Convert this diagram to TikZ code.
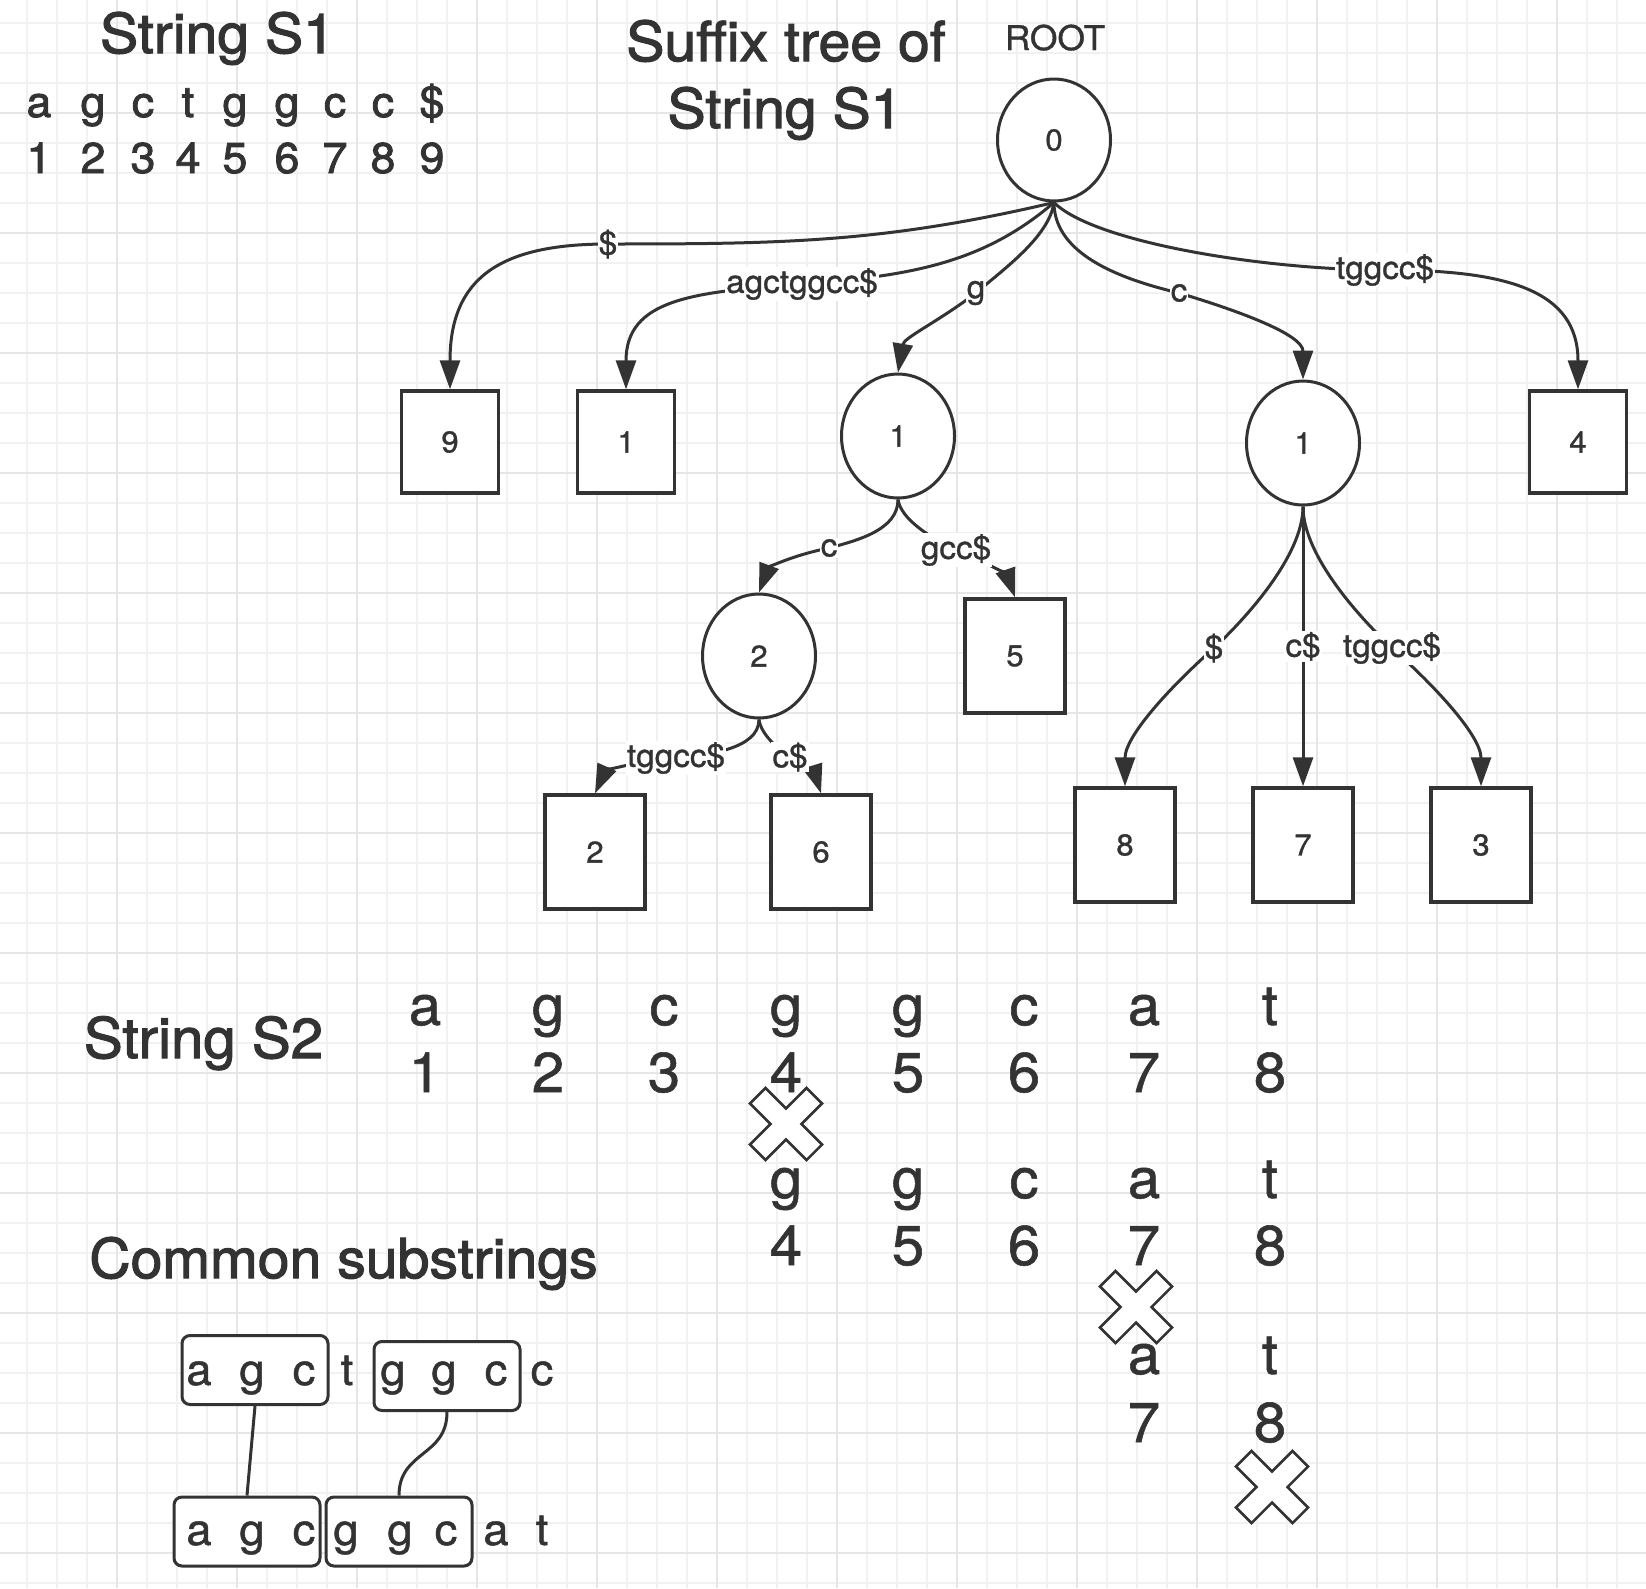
\documentclass[tikz,border=0pt]{standalone}
\usepackage{fontspec}
\setmainfont{TeX Gyre Heros}[FakeStretch=1.04,FakeBold=1]
\newfontfamily\heavyfont{TeX Gyre Heros}[FakeStretch=1.04,FakeBold=2]
\usetikzlibrary{shapes.geometric}
\usetikzlibrary{arrows.meta}
\definecolor{ink}{HTML}{333333}
\definecolor{gridlight}{HTML}{F1F1F1}
\definecolor{griddark}{HTML}{E6E6E6}

\tikzset{
  grid minor/.style = {draw=gridlight, line width=1.3pt},
  grid major/.style = {draw=griddark, line width=1.6pt},
  tree edge/.style  = {draw=ink, line width=3pt, -{Triangle[length=29pt,width=20pt]}},
  edge lbl/.style   = {fill=white, inner sep=1pt, font=\fontsize{32}{34}\selectfont},
  link/.style       = {draw=ink, line width=3pt},
  cross mark/.style = {draw=ink, fill=white, line width=2.6pt}
}

\begin{document}
\begin{tikzpicture}[x=1pt,y=-1pt,text=ink]
\tikzstyle{leaf node}=[rectangle,draw=ink,fill=white,line width=3.4pt,minimum width=97pt,minimum height=102pt,inner sep=0,font=\fontsize{30}{32}\selectfont]
\tikzstyle{tall leaf}=[leaf node,minimum width=100pt,minimum height=114pt]
\tikzstyle{inner node}=[ellipse,draw=ink,fill=white,line width=3pt,minimum width=113pt,minimum height=124pt,inner sep=0,font=\fontsize{30}{32}\selectfont]
\tikzstyle{title}=[anchor=base,font=\heavyfont\fontsize{55}{60}\selectfont]
\tikzstyle{seq one}=[anchor=base,font=\heavyfont\fontsize{43}{46}\selectfont]
\tikzstyle{seq two}=[anchor=base,font=\fontsize{56}{60}\selectfont]
\tikzstyle{sub box}=[rectangle,rounded corners=8pt,draw=ink,fill=white,line width=3pt,minimum width=146pt,minimum height=69pt,inner sep=0]
\tikzstyle{sub chr}=[anchor=base,font=\fontsize{44}{46}\selectfont]

\useasboundingbox (0,0) rectangle (1646,1588);
% background grid
\foreach \gx in {27,57,...,1646} \draw[grid minor] (\gx,0) -- (\gx,1588);
\foreach \gy in {23,53,...,1588} \draw[grid minor] (0,\gy) -- (1646,\gy);
\foreach \gx in {117,237,...,1646} \draw[grid major] (\gx,0) -- (\gx,1588);
\foreach \gy in {113,233,...,1588} \draw[grid major] (0,\gy) -- (1646,\gy);

% titles
\node[title] (s1title) at (217.5,53) {String S1};
\node[title] (suffix1) at (786,61) {Suffix tree of};
\node[title] (suffix2) at (785,128) {String S1};
\node[anchor=base,font=\fontsize{34}{36}\selectfont] (rootlbl) at (1055,50) {ROOT};

% string S1
\foreach \px/\ch [count=\i] in {39/a,93/g,143/c,188/t,235/g,287/g,335/c,383/c,432/\$} {
  \node[seq one] (s1c\i) at (\px,117) {\ch};
  \node[seq one] (s1n\i) at (\px,173) {\i};
}

% suffix tree
\node[inner node,minimum height=122pt] (r0) at (1054,140) {0};
\node[leaf node]  (b9)  at (450,442)  {9};
\node[leaf node]  (b1)  at (626,442)  {1};
\node[inner node] (c1l) at (898,436)  {1};
\node[inner node] (c1r) at (1303,443) {1};
\node[leaf node]  (b4)  at (1578,442) {4};
\node[inner node] (c2)  at (759,656)  {2};
\node[tall leaf]  (b5)  at (1015,656) {5};
\node[tall leaf]  (b2)  at (595,852)  {2};
\node[tall leaf]  (b6)  at (821,852)  {6};
\node[tall leaf]  (b8)  at (1125,845) {8};
\node[tall leaf]  (b7)  at (1303,845) {7};
\node[tall leaf]  (b3)  at (1481,845) {3};

\coordinate (w9)  at (608,244);
\coordinate (w1)  at (802,284);
\coordinate (wg)  at (976,293);
\coordinate (wc)  at (1179,293);
\coordinate (w4)  at (1385,270);
\coordinate (wlc) at (829,548);
\coordinate (w5)  at (956,550);
\coordinate (w2)  at (676,758);
\coordinate (w6)  at (790,757);
\coordinate (w8)  at (1214,648);
\coordinate (w3)  at (1392,648);

\draw[tree edge] (r0.south) .. controls +(-170,40) and +(175,0) .. node[edge lbl,pos=1] {\$} (w9)
                 .. controls +(-110,0) and +(0,-110) .. (b9.north);
\draw[tree edge] (r0.south) .. controls +(-70,60) and +(110,-8) .. node[edge lbl,pos=1] {agctggcc\$} (w1)
                 .. controls +(-110,8) and +(0,-90) .. (b1.north);
\draw[tree edge] (r0.south) .. controls +(-5,35) and +(25,-22) .. node[edge lbl,pos=1] {g} (wg)
                 .. controls +(-40,30) and +(6,-35) .. (c1l.north);
\draw[tree edge] (r0.south) .. controls +(0,55) and +(-50,-12) .. node[edge lbl,pos=1] {c} (wc)
                 .. controls +(60,18) and +(0,-45) .. (c1r.north);
\draw[tree edge] (r0.south) .. controls +(40,40) and +(-120,0) .. node[edge lbl,pos=1] {tggcc\$} (w4)
                 .. controls +(120,0) and +(0,-100) .. (b4.north);
%%%%%%%%%%%%%%%%%%%%
\draw[tree edge] (c1l.south) .. controls +(0,30) and +(30,-8) .. node[edge lbl,pos=1] {c} (wlc)
                 .. controls +(-40,8) and +(9,-24) .. (c2.north);
\draw[tree edge] (c1l.south) .. controls +(3,20) and +(-25,-12) .. node[edge lbl,pos=1] {gcc\$} (w5)
                 .. controls +(28,10) and +(-7,-20) .. (b5.north);
\draw[tree edge] (c2.south) .. controls +(0,30) and +(30,-3) .. node[edge lbl,pos=1] {tggcc\$} (w2)
                 .. controls +(-45,3) and +(9,-20) .. (b2.north);
\draw[tree edge] (c2.south) .. controls +(2,15) and +(-12,-8) .. node[edge lbl,pos=1] {c\$} (w6)
                 .. controls +(16,6) and +(-5,-16) .. (b6.north);
%%%%%%%%%%%%%%%%%%%%
\draw[tree edge] (c1r.south) .. controls +(0,50) and +(30,-28) .. node[edge lbl,pos=1] {\$} (w8)
                 .. controls +(-45,40) and +(0,-50) .. (b8.north);
\draw[tree edge] (c1r.south) -- node[edge lbl] {c\$} (b7.north);
\draw[tree edge] (c1r.south) .. controls +(0,50) and +(-30,-28) .. node[edge lbl,pos=1] {tggcc\$} (w3)
                 .. controls +(45,40) and +(0,-50) .. (b3.north);

% string S2 and its suffixes
\node[title,font=\heavyfont\fontsize{56}{60}\selectfont] (s2title) at (203.5,1058) {String S2};
\foreach \px/\ch [count=\i] in {425/a,548/g,664/c,786/g,908/g,1024/c,1144/a,1270/t} {
  \node[seq two] (s2c\i) at (\px,1025) {\ch};
  \node[seq two] (s2n\i) at (\px,1092) {\i};
}
\foreach \px/\ch/\k in {786/g/4,908/g/5,1024/c/6,1144/a/7,1270/t/8} {
  \node[seq two] (t4c\k) at (\px,1198) {\ch};
  \node[seq two] (t4n\k) at (\px,1265) {\k};
}
\foreach \px/\ch/\k in {1144/a/7,1270/t/8} {
  \node[seq two] (t7c\k) at (\px,1374) {\ch};
  \node[seq two] (t7n\k) at (\px,1442) {\k};
}
\foreach \cx/\cy in {786/1124,1136/1307,1272/1487}
  \draw[cross mark,shift={(\cx,\cy)},rotate=45] (11,40) -- (11,11) -- (40,11) -- (40,-11) -- (11,-11) -- (11,-40)
       -- (-11,-40) -- (-11,-11) -- (-40,-11) -- (-40,11) -- (-11,11) -- (-11,40) -- cycle;

% common substrings
\node[title] (common) at (343.5,1278) {Common substrings};
\node[sub box] (u1) at (255,1370)  {};
\node[sub box] (u2) at (447,1376)  {};
\node[sub box] (v1) at (247,1531.5) {};
\node[sub box] (v2) at (399,1531.5) {};
\foreach \px/\ch [count=\i] in {199/a,252/g,304/c,347/t,393/g,444/g,496/c,542/c}
  \node[sub chr] (uc\i) at (\px,1385) {\ch};
\foreach \px/\ch [count=\i] in {199/a,252/g,304/c,346/g,400/g,446/c,496/a,542/t}
  \node[sub chr] (vc\i) at (\px,1545) {\ch};
\draw[link] (u1.south) -- (v1.north);
\draw[link] (u2.south) .. controls +(0,45) and +(0,-45) .. (v2.north);
\end{tikzpicture}
\end{document}
